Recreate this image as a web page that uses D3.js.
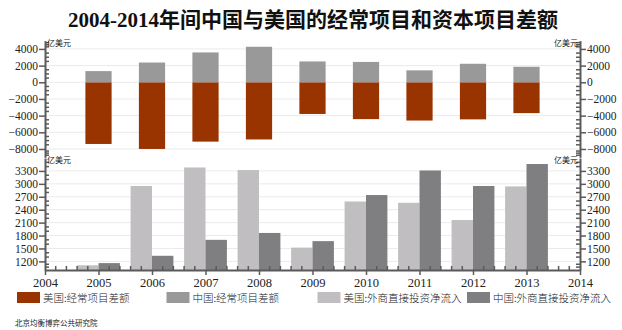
<!DOCTYPE html>
<html><head><meta charset="utf-8">
<script src="https://cdn.jsdelivr.net/npm/d3@7"></script>
<style>
body{margin:0;background:#fff;}
svg{display:block;}
</style></head>
<body>
<script>
const years = [2005, 2006, 2007, 2008, 2009, 2010, 2011, 2012, 2013];
const usCurrent = [-7400, -8000, -7120, -6860, -3800, -4420, -4590, -4450, -3700];
const cnCurrent = [1340, 2370, 3580, 4260, 2500, 2440, 1430, 2220, 1860];
const usFDI = [1110, 2950, 3380, 3320, 1520, 2590, 2560, 2160, 2940];
const cnFDI = [1160, 1330, 1700, 1860, 1670, 2740, 3310, 2950, 3460];
const topTicks = [4000, 2000, 0, -2000, -4000, -6000, -8000];
const bottomTicks = [1200, 1500, 1800, 2100, 2400, 2700, 3000, 3300];
const yearTicks = [2004, 2005, 2006, 2007, 2008, 2009, 2010, 2011, 2012, 2013, 2014];
const legendLabels = ["美国:经常项目差额", "中国:经常项目差额", "美国:外商直接投资净流入", "中国:外商直接投资净流入"];
const colors = ["#993300", "#999999", "#c0bec1", "#7f7e80"];
const title = "2004-2014年间中国与美国的经常项目和资本项目差额";
const unit = "亿美元";
const source = "北京均衡博弈公共研究院";

const W = 622, H = 330;
const svg = d3.select("body").append("svg").attr("width", W).attr("height", H);
const L = 45, R = 580;
const x = d3.scaleLinear().domain([2004, 2014]).range([L, R]);
const step = x(2005) - x(2004);
const yTop = d3.scaleLinear().domain([-9000, 5000]).range([157.3, 40.6]);
const yBot = d3.scaleLinear().domain([1000, 3600]).range([270, 158]);
const serif = "'Liberation Serif','DejaVu Serif','Noto Sans CJK SC',serif";
const cjk = "'Noto Sans CJK SC','Noto Sans',sans-serif";
const axisCol = "#5a5a5a";

// title
svg.append("text").attr("x", 313).attr("y", 27).attr("text-anchor", "middle")
  .attr("font-family", serif).attr("font-size", 21).attr("font-weight", "bold")
  .attr("fill", "#111").text(title);

// gridlines
svg.append("g").selectAll("line").data(topTicks).join("line")
  .attr("x1", L).attr("x2", R).attr("y1", d => yTop(d)).attr("y2", d => yTop(d))
  .attr("stroke", "#ebebeb").attr("stroke-width", 1);
svg.append("g").selectAll("line").data(bottomTicks).join("line")
  .attr("x1", L).attr("x2", R).attr("y1", d => yBot(d)).attr("y2", d => yBot(d))
  .attr("stroke", "#ebebeb").attr("stroke-width", 1);

// top bars
const tw = step * 0.49;
svg.append("g").selectAll("rect").data(years).join("rect")
  .attr("x", (d) => x(d) - tw / 2).attr("width", tw)
  .attr("y", yTop(0)).attr("height", (d, i) => yTop(usCurrent[i]) - yTop(0))
  .attr("fill", colors[0]);
svg.append("g").selectAll("rect").data(years).join("rect")
  .attr("x", (d) => x(d) - tw / 2).attr("width", tw)
  .attr("y", (d, i) => yTop(cnCurrent[i])).attr("height", (d, i) => yTop(0) - yTop(cnCurrent[i]))
  .attr("fill", colors[1]);

// bottom bars
const bw = step * 0.4;
const base = yBot(1000);
svg.append("g").selectAll("rect").data(years).join("rect")
  .attr("x", d => x(d) - bw).attr("width", bw)
  .attr("y", (d, i) => yBot(usFDI[i])).attr("height", (d, i) => base - yBot(usFDI[i]))
  .attr("fill", colors[2]);
svg.append("g").selectAll("rect").data(years).join("rect")
  .attr("x", d => x(d)).attr("width", bw)
  .attr("y", (d, i) => yBot(cnFDI[i])).attr("height", (d, i) => base - yBot(cnFDI[i]))
  .attr("fill", colors[3]);

// axes helper
function styleAxis(g) {
  g.selectAll(".domain").attr("stroke", axisCol).attr("stroke-width", 2);
  g.selectAll(".tick line").attr("stroke", axisCol).attr("stroke-width", 1.5);
  g.selectAll("text").attr("font-family", serif).attr("font-size", 11.5).attr("fill", "#222");
}
function minorTicks(scale, major, n) {
  const out = [];
  for (let i = 0; i < major.length - 1; i++) {
    const a = major[i], b = major[i + 1];
    for (let k = 1; k < n; k++) out.push(a + (b - a) * k / n);
  }
  return out;
}
function vAxis(scale, ticks, sub, xpos, side, extra) {
  const all = [...ticks, ...extra].sort((a, b) => a - b);
  const mins = minorTicks(scale, all, sub);
  const dir = side === "left" ? -1 : 1;
  const g = svg.append("g");
  g.selectAll("line.mn").data(mins).join("line").attr("class", "mn")
    .attr("x1", xpos).attr("x2", xpos - dir * 4)
    .attr("y1", d => scale(d)).attr("y2", d => scale(d))
    .attr("stroke", axisCol).attr("stroke-width", 1.5);
  const ax = side === "left" ? d3.axisLeft(scale) : d3.axisRight(scale);
  const ag = svg.append("g").attr("transform", `translate(${xpos},0)`)
    .call(ax.tickValues(ticks).tickSizeInner(6).tickSizeOuter(0).tickPadding(1).tickFormat(d3.format("d")));
  styleAxis(ag);
}
vAxis(yTop, topTicks, 4, L, "left", [5000, -9000]);
vAxis(yTop, topTicks, 4, R, "right", [5000, -9000]);
vAxis(yBot, bottomTicks, 3, L, "left", [3600, 1000]);
vAxis(yBot, bottomTicks, 3, R, "right", [3600, 1000]);

// x axis
const xMinor = minorTicks(x, yearTicks, 5);
svg.append("g").selectAll("line").data(xMinor).join("line")
  .attr("x1", d => x(d)).attr("x2", d => x(d)).attr("y1", base).attr("y2", base - 4)
  .attr("stroke", axisCol).attr("stroke-width", 1.5);
const xg = svg.append("g").attr("transform", `translate(0,${base})`)
  .call(d3.axisBottom(x).tickValues(yearTicks).tickFormat(d3.format("d")).tickSizeInner(5).tickSizeOuter(0).tickPadding(3));
styleAxis(xg);
xg.selectAll("text").attr("font-size", 12.5);

// unit labels
const unitStyle = s => s.attr("font-family", cjk).attr("font-size", 8).attr("fill", "#222");
svg.append("text").attr("x", 47).attr("y", 46).text(unit).call(unitStyle);
svg.append("text").attr("x", 578).attr("y", 46).attr("text-anchor", "end").text(unit).call(unitStyle);
svg.append("text").attr("x", 47).attr("y", 163).text(unit).call(unitStyle);
svg.append("text").attr("x", 578).attr("y", 163).attr("text-anchor", "end").text(unit).call(unitStyle);

// legend
const legX = [17, 166.5, 317.5, 467];
const lg = svg.append("g");
legendLabels.forEach((t, i) => {
  lg.append("rect").attr("x", legX[i]).attr("y", 292).attr("width", 23).attr("height", 11).attr("fill", colors[i]);
  lg.append("text").attr("x", legX[i] + 26).attr("y", 301.5).attr("font-family", cjk)
    .attr("font-size", 10.5).attr("font-weight", 300).attr("fill", "#222").text(t);
});

// source
svg.append("text").attr("x", 15).attr("y", 326).attr("font-family", cjk)
  .attr("font-size", 7.5).attr("fill", "#222").text(source);
</script>
</body></html>
